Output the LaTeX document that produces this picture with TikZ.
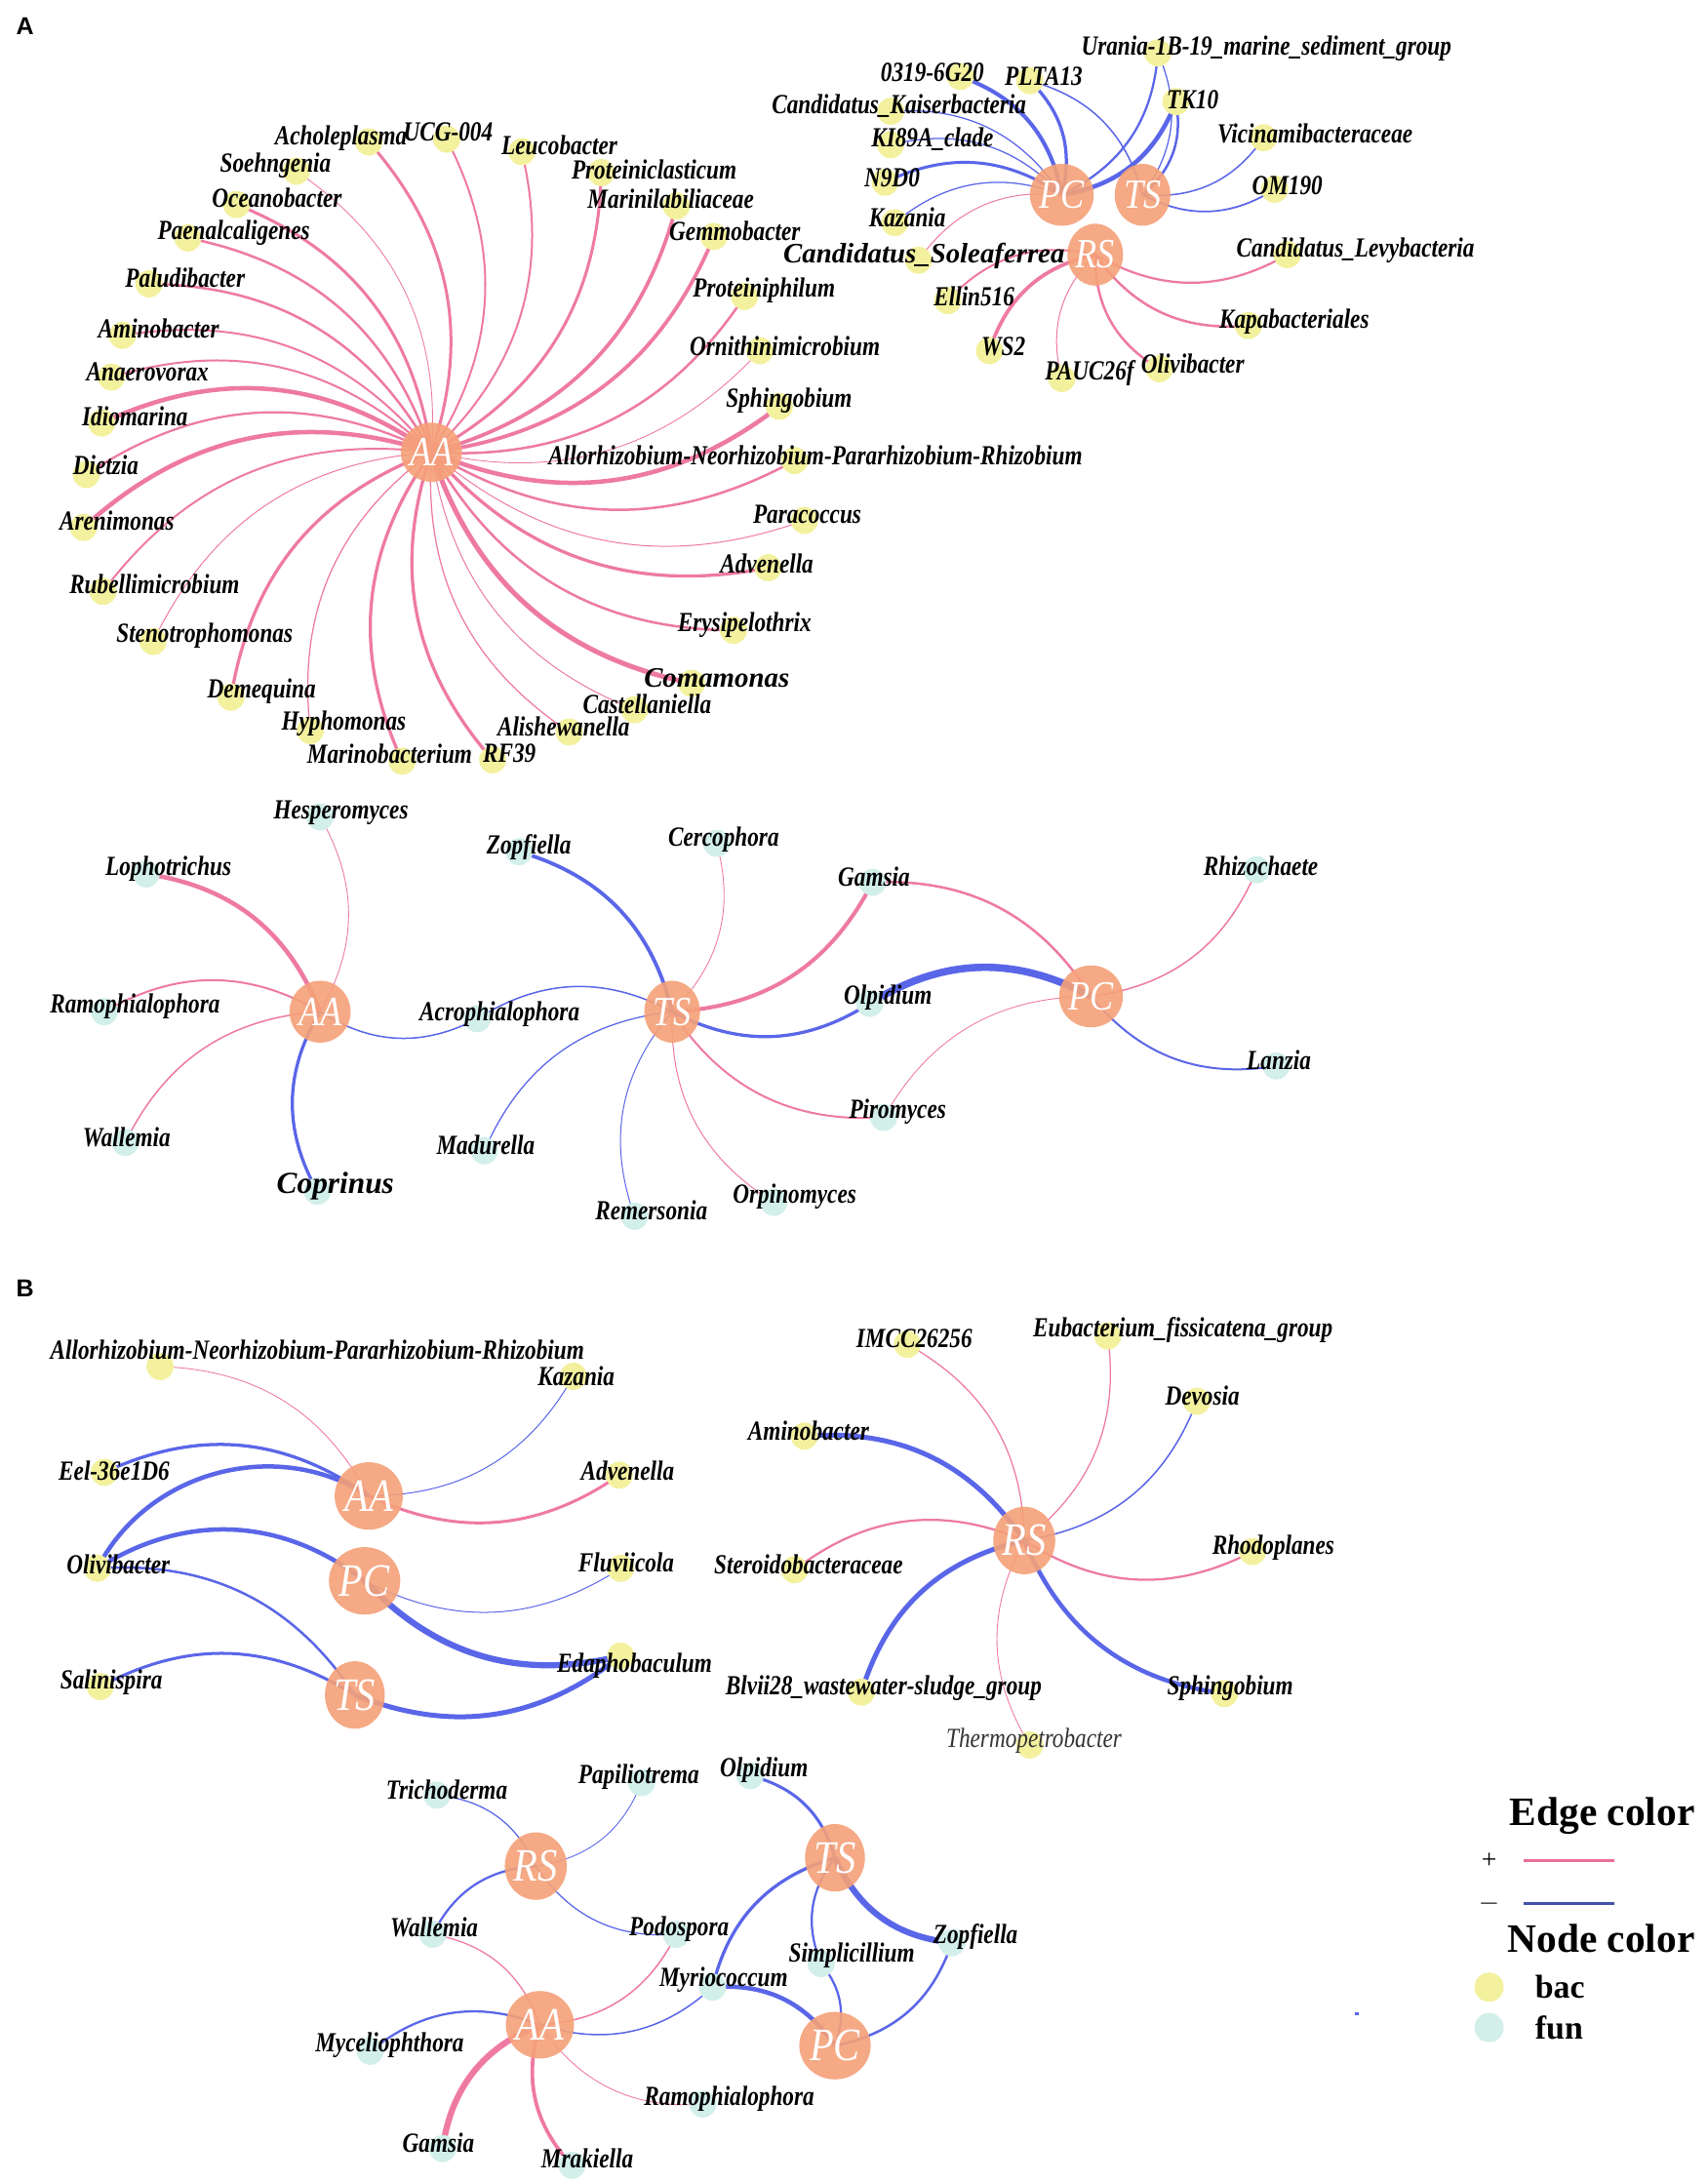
\documentclass[tikz,border=0pt]{standalone}
\usepackage{fontspec}
\setmainfont{Liberation Serif}
\newfontfamily\labf[FakeStretch=0.82]{Liberation Serif}
\newfontfamily\hubf[FakeStretch=0.85]{Liberation Serif}
\newfontfamily\panf{Liberation Sans}
\usetikzlibrary{shapes.geometric}
\pgfdeclarelayer{base}
\pgfdeclarelayer{bg}
\pgfdeclarelayer{mid}
\pgfsetlayers{base,bg,mid,main}
\definecolor{pinkE}{RGB}{238,122,163}
\definecolor{blueE}{RGB}{90,102,232}
\definecolor{hubC}{RGB}{245,160,120}
\definecolor{bacC}{RGB}{243,241,158}
\definecolor{funC}{RGB}{210,239,234}
\definecolor{legB}{RGB}{63,81,170}
\definecolor{legP}{RGB}{232,112,152}
\tikzset{
  bacc/.style={circle, fill=bacC, minimum size=0.39cm, inner sep=0},
  func/.style={circle, fill=funC, minimum size=0.39cm, inner sep=0},
  hubs/.style={ellipse, fill=hubC, fill opacity=0.9, text opacity=1, text=white, minimum width=0.76cm, minimum height=0.85cm, inner sep=0, font=\hubf\itshape\fontsize{17}{17}\selectfont},
  hubm/.style={hubs, minimum width=0.8cm, minimum height=0.89cm},
  hubl/.style={hubs, minimum width=0.86cm, minimum height=0.97cm, font=\hubf\itshape\fontsize{19}{19}\selectfont},
  lab/.style={inner sep=0, font=\labf\bfseries\itshape\fontsize{11.3}{12}\selectfont},
  biglab/.style={font=\bfseries\itshape\fontsize{11.5}{12}\selectfont},
  pedge/.style={draw=pinkE},
  nedge/.style={draw=blueE},
}
\newcommand\mkB[5][]{\begin{pgfonlayer}{mid}\node[bacc] (#2) at (#3) {};\end{pgfonlayer}\node[lab,#1] (#2t) at (#4) {#5};}
\newcommand\mkF[5][]{\begin{pgfonlayer}{mid}\node[func] (#2) at (#3) {};\end{pgfonlayer}\node[lab,#1] (#2t) at (#4) {#5};}
\newcommand\posE[4][30]{\draw[pedge,line width=#2pt] (#3.center) to[bend left=#1] (#4.center);}
\newcommand\negE[4][30]{\draw[nedge,line width=#2pt] (#3.center) to[bend left=#1] (#4.center);}
\begin{document}
\begin{tikzpicture}[x=0.02cm,y=-0.02cm]
\useasboundingbox (0,0) rectangle (1227,1568);
\begin{pgfonlayer}{base}
\fill[white] (0,0) rectangle (1227,1568);
\end{pgfonlayer}
\node[font=\panf\bfseries\fontsize{10}{10}\selectfont] (panA) at (18,19) {A};
\node[font=\panf\bfseries\fontsize{10}{10}\selectfont] (panB) at (18,926) {B};

% ---------- Panel A, bacteria, AA star ----------
\node[hubs] (a1AA) at (310,325) {AA};
\mkB{a1acho}{265,102}{245,99}{Acholeplasma}
\mkB{a1ucg}{321,100}{322,95}{UCG-004}
\mkB{a1leu}{375,109}{402,104}{Leucobacter}
\mkB{a1soe}{213,123}{198,119}{Soehngenia}
\mkB{a1pcl}{432,124}{470,122}{Proteiniclasticum}
\mkB{a1oce}{170,147}{199,142}{Oceanobacter}
\mkB{a1mar}{486,148}{482,143}{Marinilabiliaceae}
\mkB{a1pae}{135,171}{168,167}{Paenalcaligenes}
\mkB{a1gem}{513,170}{528,166}{Gemmobacter}
\mkB{a1pal}{107,204}{133,200}{Paludibacter}
\mkB{a1pph}{535,213}{549,209}{Proteiniphilum}
\mkB{a1ami}{88,241}{114,236}{Aminobacter}
\mkB{a1orn}{546,252}{564,249}{Ornithinimicrobium}
\mkB{a1ana}{80,271}{106,267}{Anaerovorax}
\mkB{a1sph}{560,292}{567,288}{Sphingobium}
\mkB{a1idi}{73,304}{97,299}{Idiomarina}
\mkB{a1all}{571,331}{586,327}{Allorhizobium-Neorhizobium-Pararhizobium-Rhizobium}
\mkB{a1die}{62,341}{76,334}{Dietzia}
\mkB{a1par}{578,374}{580,370}{Paracoccus}
\mkB{a1are}{60,379}{84,374}{Arenimonas}
\mkB{a1adv}{552,408}{551,405}{Advenella}
\mkB{a1rub}{74,425}{111,420}{Rubellimicrobium}
\mkB{a1ery}{527,453}{535,449}{Erysipelothrix}
\mkB{a1ste}{110,461}{147,457}{Stenotrophomonas}
\mkB[biglab]{a1com}{497,491}{515,487}{Comamonas}
\mkB{a1cas}{456,510}{465,506}{Castellaniella}
\mkB{a1dem}{166,501}{188,497}{Demequina}
\mkB{a1ali}{409,526}{405,522}{Alishewanella}
\mkB{a1hyp}{223,525}{247,520}{Hyphomonas}
\mkB{a1mab}{289,547}{280,542}{Marinobacterium}
\mkB{a1rf}{354,546}{366,541}{RF39}

% ---------- Panel A, bacteria, PC/TS/RS ----------
\node[hubm] (a2PC) at (763,140) {PC};
\node[hubm] (a2TS) at (821,140) {TS};
\node[hubm] (a2RS) at (787,183) {RS};
\mkB{a2g20}{690,55}{670,52}{0319-6G20}
\mkB{a2plt}{740,58}{750,55}{PLTA13}
\mkB{a2ura}{832,38}{910,35}{Urania-1B-19\_marine\_sediment\_group}
\mkB{a2tk}{845,73}{857,72}{TK10}
\mkB{a2kai}{640,80}{646,76}{Candidatus\_Kaiserbacteria}
\mkB{a2vic}{908,99}{945,96}{Vicinamibacteraceae}
\mkB{a2ki}{640,104}{670,100}{KI89A\_clade}
\mkB{a2n9}{636,131}{641,128}{N9D0}
\mkB{a2om}{916,136}{925,133}{OM190}
\mkB{a2kaz}{643,160}{652,156}{Kazania}
\mkB[biglab]{a2sol}{660,187}{664,184}{Candidatus\_Soleaferrea}
\mkB{a2lev}{925,183}{974,180}{Candidatus\_Levybacteria}
\mkB{a2ell}{681,216}{700,213}{Ellin516}
\mkB{a2kap}{897,234}{930,231}{Kapabacteriales}
\mkB{a2ws}{711,252}{721,249}{WS2}
\mkB{a2pau}{763,272}{783,268}{PAUC26f}
\mkB{a2oli}{833,265}{857,261}{Olivibacter}

% ---------- Panel A, fungi ----------
\node[hubm] (a3AA) at (230,727) {AA};
\node[hubm] (a3TS) at (483,727) {TS};
\node[hubm] (a3PC) at (784,716) {PC};
\mkF{a3hes}{230,587}{245,584}{Hesperomyces}
\mkF{a3lop}{105,628}{121,624}{Lophotrichus}
\mkF{a3ram}{75,727}{97,723}{Ramophialophora}
\mkF{a3wal}{90,821}{91,817}{Wallemia}
\mkF[font=\bfseries\itshape\fontsize{12.5}{13}\selectfont]{a3cop}{228,856}{241,852}{Coprinus}
\mkF{a3acr}{343,732}{359,729}{Acrophialophora}
\mkF{a3zop}{373,612}{380,609}{Zopfiella}
\mkF{a3cer}{515,606}{520,603}{Cercophora}
\mkF{a3mad}{348,827}{349,823}{Madurella}
\mkF{a3rem}{456,874}{468,870}{Remersonia}
\mkF{a3orp}{556,864}{571,860}{Orpinomyces}
\mkF{a3pir}{635,803}{645,799}{Piromyces}
\mkF{a3gam}{627,634}{628,630}{Gamsia}
\mkF{a3olp}{625,721}{638,717}{Olpidium}
\mkF{a3rhi}{903,625}{906,622}{Rhizochaete}
\mkF{a3lan}{917,766}{919,762}{Lanzia}

% ---------- Panel B, bacteria left ----------
\node[hubl] (b1AA) at (265,1075) {AA};
\node[hubl] (b1PC) at (262,1136) {PC};
\node[hubl] (b1TS) at (255,1218) {TS};
\mkB{b1all}{115,982}{228,970}{Allorhizobium-Neorhizobium-Pararhizobium-Rhizobium}
\mkB{b1kaz}{412,989}{414,989}{Kazania}
\mkB{b1eel}{75,1058}{82,1057}{Eel-36e1D6}
\mkB{b1adv}{445,1060}{451,1057}{Advenella}
\mkB{b1oli}{70,1127}{85,1124}{Olivibacter}
\mkB{b1flu}{446,1127}{450,1123}{Fluviicola}
\mkB{b1sal}{72,1212}{80,1209}{Salinispira}
\mkB{b1eda}{446,1190}{456,1197}{Edaphobaculum}

% ---------- Panel B, bacteria RS ----------
\node[hubl] (b2RS) at (736,1107) {RS};
\mkB{b2imc}{652,966}{657,962}{IMCC26256}
\mkB{b2eub}{796,960}{850,956}{Eubacterium\_fissicatena\_group}
\mkB{b2dev}{860,1007}{864,1003}{Devosia}
\mkB{b2ami}{578,1032}{581,1028}{Aminobacter}
\mkB{b2rho}{900,1115}{915,1112}{Rhodoplanes}
\mkB{b2ste}{571,1128}{581,1124}{Steroidobacteraceae}
\mkB{b2blv}{619,1216}{635,1213}{Blvii28\_wastewater-sludge\_group}
\mkB{b2sph}{880,1217}{884,1213}{Sphingobium}
\mkB[font=\labf\itshape\fontsize{11.3}{12}\selectfont, text=black!80]{b2the}{740,1254}{743,1251}{Thermopetrobacter}

% ---------- Panel B, fungi ----------
\node[hubl] (b3RS) at (385,1341) {RS};
\node[hubl] (b3AA) at (388,1455) {AA};
\node[hubl] (b3TS) at (600,1335) {TS};
\node[hubl] (b3PC) at (600,1470) {PC};
\mkF{b3tri}{314,1290}{321,1286}{Trichoderma}
\mkF{b3pap}{461,1281}{459,1277}{Papiliotrema}
\mkF{b3wal}{311,1390}{312,1385}{Wallemia}
\mkF{b3pod}{486,1390}{488,1386}{Podospora}
\mkF{b3olp}{539,1276}{549,1272}{Olpidium}
\mkF{b3sim}{590,1411}{612,1405}{Simplicillium}
\mkF{b3zop}{684,1396}{701,1392}{Zopfiella}
\mkF{b3myr}{512,1428}{520,1423}{Myriococcum}
\mkF{b3myc}{266,1474}{280,1470}{Myceliophthora}
\mkF{b3ram}{505,1512}{524,1508}{Ramophialophora}
\mkF{b3gam}{318,1544}{315,1540}{Gamsia}
\mkF{b3mra}{411,1556}{422,1551}{Mrakiella}

% ---------- edges ----------
\begin{pgfonlayer}{bg}
\posE{1.2}{a1acho}{a1AA}
\posE{0.8}{a1ucg}{a1AA}
\posE{0.8}{a1leu}{a1AA}
\posE{0.35}{a1soe}{a1AA}
\posE{1.2}{a1pcl}{a1AA}
\posE{1.2}{a1oce}{a1AA}
\posE{1.5}{a1mar}{a1AA}
\posE{1.0}{a1pae}{a1AA}
\posE{1.5}{a1gem}{a1AA}
\posE{1.0}{a1pal}{a1AA}
\posE{1.0}{a1pph}{a1AA}
\posE{0.8}{a1ami}{a1AA}
\posE{0.35}{a1orn}{a1AA}
\posE{0.8}{a1ana}{a1AA}
\posE{1.8}{a1sph}{a1AA}
\posE{1.8}{a1idi}{a1AA}
\posE{1.0}{a1all}{a1AA}
\posE{0.9}{a1die}{a1AA}
\posE{0.4}{a1par}{a1AA}
\posE{1.8}{a1are}{a1AA}
\posE{1.3}{a1adv}{a1AA}
\posE{0.8}{a1rub}{a1AA}
\posE{1.0}{a1ery}{a1AA}
\posE{0.4}{a1ste}{a1AA}
\posE{2.0}{a1com}{a1AA}
\posE{0.4}{a1cas}{a1AA}
\posE{1.3}{a1dem}{a1AA}
\posE{0.5}{a1ali}{a1AA}
\posE{0.5}{a1hyp}{a1AA}
\posE{1.3}{a1mab}{a1AA}
\posE{1.3}{a1rf}{a1AA}
%
\negE{1.6}{a2g20}{a2PC}
\negE{1.3}{a2plt}{a2PC}
\negE{0.6}{a2plt}{a2TS}
\negE{0.9}{a2ura}{a2PC}
\negE{0.5}{a2ura}{a2TS}
\negE{1.8}{a2tk}{a2PC}
\negE{1.0}{a2tk}{a2TS}
\negE{0.5}{a2kai}{a2PC}
\negE{0.6}{a2vic}{a2TS}
\negE{0.5}{a2ki}{a2PC}
\negE{1.2}{a2n9}{a2PC}
\negE{0.7}{a2om}{a2TS}
\negE{0.5}{a2kaz}{a2PC}
\posE{0.4}{a2sol}{a2PC}
\posE{0.9}{a2lev}{a2RS}
\posE{0.8}{a2ell}{a2RS}
\posE{1.0}{a2kap}{a2RS}
\posE{1.5}{a2ws}{a2RS}
\posE{0.4}{a2pau}{a2RS}
\posE{1.0}{a2oli}{a2RS}
%
\posE{0.35}{a3hes}{a3AA}
\posE{1.8}{a3lop}{a3AA}
\posE{0.8}{a3ram}{a3AA}
\posE{0.6}{a3wal}{a3AA}
\negE{1.3}{a3cop}{a3AA}
\negE{0.6}{a3acr}{a3AA}
\negE{0.6}{a3acr}{a3TS}
\negE{1.5}{a3zop}{a3TS}
\posE{0.35}{a3cer}{a3TS}
\negE{0.5}{a3mad}{a3TS}
\negE{0.4}{a3rem}{a3TS}
\posE{0.4}{a3orp}{a3TS}
\posE{0.8}{a3pir}{a3TS}
\posE{0.35}{a3pir}{a3PC}
\posE{1.6}{a3gam}{a3TS}
\posE{1.0}{a3gam}{a3PC}
\negE{1.3}{a3olp}{a3TS}
\negE{3.0}{a3olp}{a3PC}
\posE{0.6}{a3rhi}{a3PC}
\negE{0.8}{a3lan}{a3PC}
%
\posE{0.35}{b1all}{b1AA}
\negE{0.4}{b1kaz}{b1AA}
\negE{1.3}{b1eel}{b1AA}
\posE{1.2}{b1adv}{b1AA}
\negE[48]{1.8}{b1oli}{b1AA}
\negE[35]{1.8}{b1oli}{b1PC}
\negE{1.0}{b1oli}{b1TS}
\negE{0.4}{b1flu}{b1PC}
\negE{1.2}{b1sal}{b1TS}
\negE{2.5}{b1eda}{b1PC}
\negE{2.0}{b1eda}{b1TS}
%
\posE{0.5}{b2imc}{b2RS}
\posE{0.5}{b2eub}{b2RS}
\negE{0.6}{b2dev}{b2RS}
\negE{2.0}{b2ami}{b2RS}
\posE{0.9}{b2rho}{b2RS}
\posE{0.9}{b2ste}{b2RS}
\negE{2.0}{b2blv}{b2RS}
\negE{1.8}{b2sph}{b2RS}
\posE{0.35}{b2the}{b2RS}
%
\negE{0.5}{b3tri}{b3RS}
\negE{0.35}{b3pap}{b3RS}
\negE{0.9}{b3wal}{b3RS}
\posE{0.5}{b3wal}{b3AA}
\negE{0.5}{b3pod}{b3RS}
\posE{0.6}{b3pod}{b3AA}
\negE{1.2}{b3olp}{b3TS}
\negE{0.9}{b3sim}{b3TS}
\negE{0.9}{b3sim}{b3PC}
\negE{2.5}{b3zop}{b3TS}
\negE{1.0}{b3zop}{b3PC}
\negE{1.3}{b3myr}{b3TS}
\negE{1.8}{b3myr}{b3PC}
\negE{0.6}{b3myr}{b3AA}
\negE{0.9}{b3myc}{b3AA}
\posE{0.35}{b3ram}{b3AA}
\posE{2.5}{b3gam}{b3AA}
\posE{1.5}{b3mra}{b3AA}
\end{pgfonlayer}

% ---------- legend ----------
\node[anchor=east, font=\bfseries\fontsize{16.5}{18}\selectfont] (legE) at (1224,1305) {Edge color};
\node[font=\fontsize{11}{12}\selectfont] (legplus) at (1070,1337) {+};
\node[font=\fontsize{11}{12}\selectfont] (legminus) at (1070,1368) {$-$};
\coordinate (lp1) at (1095,1337);
\coordinate (lp2) at (1160,1337);
\coordinate (ln1) at (1095,1368);
\coordinate (ln2) at (1160,1368);
\draw[legP, line width=1.3pt] (lp1) -- (lp2);
\draw[legB, line width=1.3pt] (ln1) -- (ln2);
\node[anchor=east, font=\bfseries\fontsize{16.5}{18}\selectfont] (legN) at (1224,1393) {Node color};
\node[bacc, minimum size=0.42cm] (legbac) at (1070,1428) {};
\node[func, minimum size=0.42cm] (legfun) at (1070,1457) {};
\node[anchor=west, font=\bfseries\fontsize{13.5}{14}\selectfont] (legbact) at (1097,1428) {bac};
\node[anchor=west, font=\bfseries\fontsize{13.5}{14}\selectfont] (legfunt) at (1097,1457) {fun};
\node[fill=blueE, minimum size=0.05cm, inner sep=0] (legdot) at (975,1447) {};
\end{tikzpicture}
\end{document}
